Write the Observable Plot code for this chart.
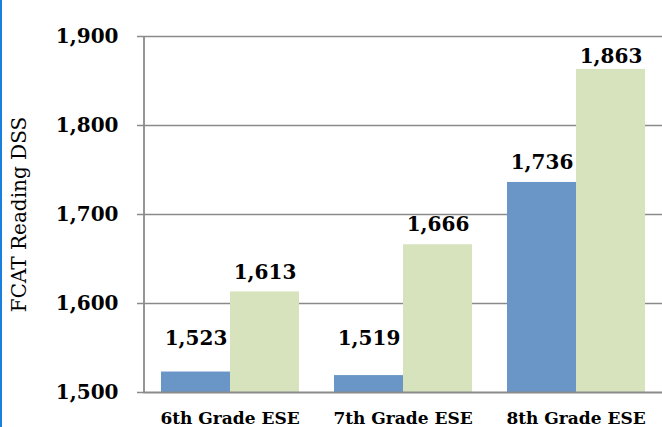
<!DOCTYPE html>
<html><head><meta charset="utf-8">
<script src="https://cdn.jsdelivr.net/npm/d3@7"></script>
<script src="https://cdn.jsdelivr.net/npm/@observablehq/plot@0.6"></script>
<style>
html,body{margin:0;padding:0;background:#fff;}
#wrap{position:relative;width:662px;height:427px;overflow:hidden;}
#edge{position:absolute;left:0;top:0;width:2px;height:427px;background:#1a80e0;z-index:1;}
</style></head><body><div id="wrap"><div id="edge"></div></div>
<script>
const grades = ["6th Grade ESE", "7th Grade ESE", "8th Grade ESE"];
const seriesNames = ["Series 1", "Series 2"];
const valuesSeries1 = [1523, 1519, 1736];
const valuesSeries2 = [1613, 1666, 1863];
const yTicks = [1500, 1600, 1700, 1800, 1900];
const yTitle = "FCAT Reading DSS";

const rows = [];
grades.forEach((g, i) => {
  rows.push({grade: g, series: seriesNames[0], value: valuesSeries1[i]});
  rows.push({grade: g, series: seriesNames[1], value: valuesSeries2[i]});
});
const fmt = d3.format(",");
const serif = "'DejaVu Serif', serif";
const gray = "#8a8a8a";

const chart = Plot.plot({
  width: 662, height: 427,
  marginLeft: 143, marginRight: 0, marginTop: 36, marginBottom: 35,
  style: {background: "transparent", fontFamily: serif, color: "#000", overflow: "visible"},
  fx: {domain: grades, padding: 0, label: null, axis: null},
  x: {domain: seriesNames, paddingInner: 0, paddingOuter: 0.25, axis: null},
  y: {domain: [1500, 1900], axis: null},
  color: {domain: seriesNames, range: ["#6996c7", "#d7e3bd"]},
  marks: [
    Plot.ruleY(yTicks.slice(1), {stroke: gray, strokeWidth: 1.5}),
    Plot.barY(rows, {fx: "grade", x: "series", y1: yTicks[0], y2: "value", fill: "series"}),
    Plot.ruleY([yTicks[0]], {stroke: gray, strokeWidth: 1.8}),
    // vertical axis line on the left edge of the first facet
    Plot.ruleX([grades[0]], {fx: d => d, x: () => seriesNames[0], dx: -52,
      y1: yTicks[0], y2: yTicks[yTicks.length - 1], stroke: gray, strokeWidth: 1.8}),
    Plot.axisY(yTicks, {tickSize: 6, tickPadding: 19, tickFormat: fmt, label: null,
      fontSize: 20, fontWeight: "bold", fontFamily: serif, stroke: gray, strokeWidth: 1.5, strokeOpacity: 1}),
    Plot.axisFx({anchor: "bottom", tickSize: 0, tickPadding: 19, label: null,
      fontSize: 17, fontWeight: "bold", fontFamily: serif}),
    Plot.text(rows, {fx: "grade", x: "series",
      y: d => Math.min(Math.max(d.value + 15, 1553), 1870),
      text: d => fmt(d.value), lineAnchor: "bottom",
      fontSize: 20, fontWeight: "bold", fontFamily: serif, fill: "#000"}),
    Plot.text([yTitle], {facet: "super", frameAnchor: "left", textAnchor: "middle", rotate: -90, dx: -124,
      fontSize: 20, fontFamily: serif, fill: "#000"})
  ]
});
document.getElementById("wrap").appendChild(chart);
</script>
</body></html>
